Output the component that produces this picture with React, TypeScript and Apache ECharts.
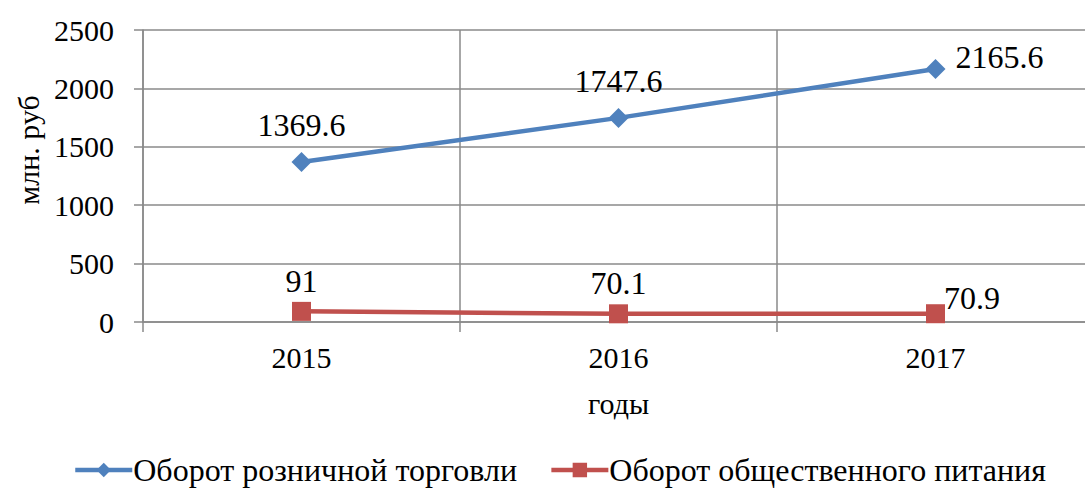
import React, { useEffect, useRef } from "react";
import * as echarts from "echarts";

const years = ["2015", "2016", "2017"];
const retail = [1369.6, 1747.6, 2165.6];
const catering = [91, 70.1, 70.9];
const seriesNames = ["Оборот розничной торговли", "Оборот общественного питания"];
const yTicks = { min: 0, max: 2500, interval: 500 };

const FONT = "Liberation Serif";
const GRID = "#8a8a8a";

export default function App() {
  const ref = useRef<HTMLDivElement>(null);
  useEffect(() => {
    const chart = echarts.init(ref.current!, null, { renderer: "svg" });
    chart.setOption({
      animation: false,
      grid: { left: 143, top: 30, right: 6, bottom: 173, containLabel: false },
      xAxis: {
        type: "category",
        data: years,
        boundaryGap: true,
        axisLine: { lineStyle: { color: GRID, width: 1.5 } },
        axisTick: { show: true, length: 10, lineStyle: { color: GRID, width: 1.5 } },
        splitLine: { show: true, lineStyle: { color: GRID, width: 1.5 } },
        axisLabel: { color: "#000", fontSize: 30, fontFamily: FONT, margin: 20 },
        name: "годы",
        nameLocation: "middle",
        nameGap: 66,
        nameTextStyle: { color: "#000", fontSize: 30, fontFamily: FONT },
      },
      yAxis: {
        type: "value",
        min: yTicks.min,
        max: yTicks.max,
        interval: yTicks.interval,
        axisLine: { show: true, lineStyle: { color: GRID, width: 1.5 } },
        axisTick: { show: true, length: 9, lineStyle: { color: GRID, width: 1.5 } },
        splitLine: { show: true, lineStyle: { color: GRID, width: 1.5 } },
        axisLabel: {
          color: "#000",
          fontSize: 30,
          fontFamily: FONT,
          margin: 29,
          formatter: (v: number) => String(v),
        },
      },
      legend: {
        bottom: 4,
        left: 68,
        itemWidth: 57,
        itemHeight: 18,
        itemGap: 32,
        lineStyle: { width: 4.5 },
        textStyle: { color: "#000", fontSize: 32, fontFamily: FONT, padding: [0, 0, 0, -4] },
        data: seriesNames,
      },
      graphic: [
        {
          type: "text",
          x: 28,
          y: 150,
          rotation: Math.PI / 2,
          style: {
            text: "млн. руб",
            fontSize: 30,
            fontFamily: FONT,
            fill: "#000",
            align: "center",
            verticalAlign: "middle",
          },
        },
      ],
      series: [
        {
          name: seriesNames[0],
          type: "line",
          data: retail.map((v, i) =>
            i === 2
              ? { value: v, label: { position: "right", offset: [-1, -12] } }
              : v
          ),
          color: "#4F81BD",
          symbol: "diamond",
          symbolSize: 20,
          lineStyle: { width: 4.5, color: "#4F81BD" },
          itemStyle: { color: "#4F81BD" },
          label: {
            show: true,
            position: "top",
            distance: 11,
            color: "#000",
            fontSize: 32,
            fontFamily: FONT,
          },
        },
        {
          name: seriesNames[1],
          type: "line",
          data: catering.map((v, i) =>
            i === 2
              ? { value: v, label: { position: "right", offset: [-6, -16] } }
              : v
          ),
          color: "#C0504D",
          symbol: "rect",
          symbolSize: 19,
          lineStyle: { width: 4.5, color: "#C0504D" },
          itemStyle: { color: "#C0504D" },
          label: {
            show: true,
            position: "top",
            distance: 5,
            color: "#000",
            fontSize: 32,
            fontFamily: FONT,
          },
        },
      ],
    });
    return () => chart.dispose();
  }, []);
  return (
    <div>
      <style>{`.serif-chart text { font-family: "Liberation Serif", "Times New Roman", serif !important; }`}</style>
      <div
        ref={ref}
        className="serif-chart"
        style={{ position: "fixed", left: 0, top: 0, width: 1100, height: 495, background: "#fff" }}
      />
    </div>
  );
}
